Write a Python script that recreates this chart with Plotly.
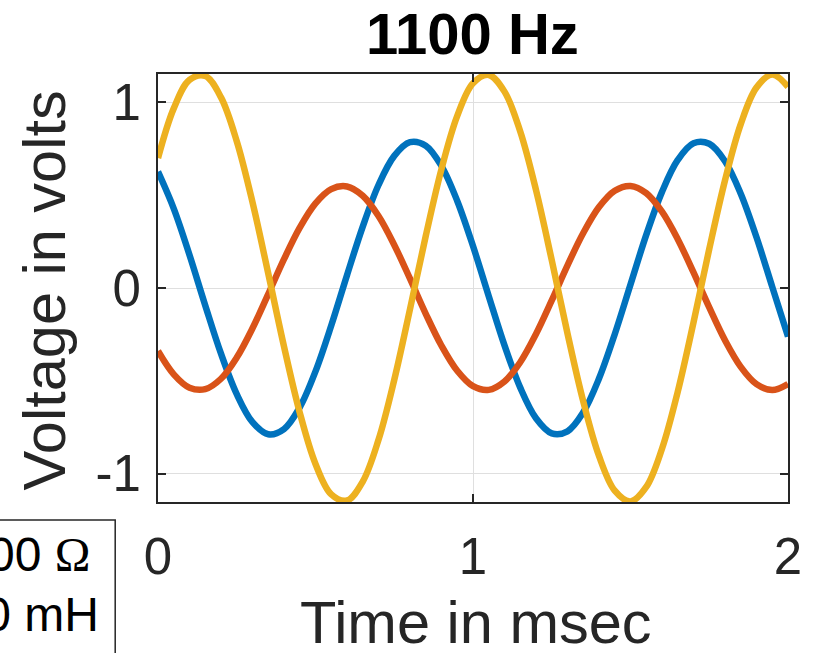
import plotly.graph_objects as go

# ---- data ----
time_ms = [round(0.05 * k, 2) for k in range(41)]

v_blue = [0.627, 0.428, 0.178, -0.094, -0.354, -0.572, -0.723, -0.788, -0.760, -0.643,
          -0.449, -0.202, 0.069, 0.331, 0.555, 0.712, 0.786, 0.767, 0.657, 0.469,
          0.226, -0.044, -0.309, -0.537, -0.702, -0.783, -0.772, -0.670, -0.488, -0.249,
          0.019, 0.286, 0.518, 0.690, 0.780, 0.777, 0.683, 0.508, 0.273, 0.006,
          -0.262]

v_orange = [-0.339, -0.465, -0.537, -0.545, -0.489, -0.375, -0.217, -0.033, 0.155, 0.325,
            0.456, 0.533, 0.547, 0.497, 0.388, 0.232, 0.050, -0.139, -0.311, -0.446,
            -0.529, -0.549, -0.504, -0.400, -0.248, -0.067, 0.122, 0.296, 0.436, 0.524,
            0.550, 0.511, 0.411, 0.263, 0.084, -0.105, -0.282, -0.425, -0.518, -0.550,
            -0.517]

v_yellow = [0.700, 0.968, 1.121, 1.142, 1.027, 0.791, 0.462, 0.078, -0.315, -0.671,
            -0.948, -1.112, -1.145, -1.043, -0.818, -0.495, -0.114, 0.280, 0.641, 0.927,
            1.103, 1.148, 1.058, 0.843, 0.528, 0.150, -0.245, -0.611, -0.905, -1.092,
            -1.150, -1.072, -0.866, -0.559, -0.186, 0.210, 0.580, 0.883, 1.080, 1.150,
            1.084]

x_ticks = [0, 1, 2]
x_tick_labels = ["0", "1", "2"]
y_ticks = [-1, 0, 1]
y_tick_labels = ["-1", "0", "1"]

title_text = "1100 Hz"
x_title = "Time in msec"
y_title = "Voltage in volts"
box_lines = ["R = 100 ", "L = 10 mH"]

# ---- figure geometry ----
W, H = 814, 653
L, R, T, B = 158, 23, 74, 151
PW, PH = W - L - R, H - T - B


def px(x):
    return (x - L) / PW


def py(y):
    return (H - B - y) / PH


series = [(v_blue, "#0072BD"), (v_orange, "#D95319"), (v_yellow, "#EDB120")]

fig = go.Figure()
for vals, col in series:
    fig.add_trace(go.Scatter(x=time_ms, y=vals, mode="lines",
                             line=dict(color=col, width=6.5, shape="spline"),
                             showlegend=False, hoverinfo="skip"))

axis_common = dict(showline=True, linecolor="#262626", linewidth=2, mirror="ticks",
                   ticks="inside", ticklen=8, tickwidth=2, tickcolor="#262626",
                   showgrid=True, gridcolor="#dfdfdf", gridwidth=1, zeroline=False,
                   tickfont=dict(family="Liberation Sans", size=51, color="#262626"))

fig.update_xaxes(range=[0, 2], tickvals=x_ticks, ticktext=x_tick_labels,
                 ticklabelstandoff=9, **axis_common)
fig.update_yaxes(range=[-1.153, 1.153], tickvals=y_ticks, ticktext=y_tick_labels,
                 ticklabelstandoff=5, **axis_common)

annotations = [
    dict(text="<b>" + title_text + "</b>", x=px(474), y=py(33), xref="paper", yref="paper",
         xanchor="center", yanchor="middle", showarrow=False,
         font=dict(family="Liberation Sans", size=58, color="black")),
    dict(text=x_title, x=px(478), y=py(622), xref="paper", yref="paper",
         xanchor="center", yanchor="middle", showarrow=False,
         font=dict(family="Liberation Sans", size=59.5, color="#262626")),
    dict(text=y_title, x=px(43), y=py(291), xref="paper", yref="paper", textangle=-90,
         xanchor="center", yanchor="middle", showarrow=False,
         font=dict(family="Liberation Sans", size=59.5, color="#262626")),
    dict(text=box_lines[0] + '<span style="font-family:Liberation Serif">\u03A9</span>',
         x=px(92), y=py(554), xref="paper", yref="paper",
         xanchor="right", yanchor="middle", showarrow=False,
         font=dict(family="Liberation Sans", size=48, color="black")),
    dict(text=box_lines[1], x=px(101), y=py(614), xref="paper", yref="paper",
         xanchor="right", yanchor="middle", showarrow=False,
         font=dict(family="Liberation Sans", size=48, color="black")),
]

shapes = [dict(type="rect", xref="paper", yref="paper",
               x0=px(-60), x1=px(115), y0=py(720), y1=py(520),
               line=dict(color="#262626", width=1.5), fillcolor="rgba(0,0,0,0)")]

fig.update_layout(width=W, height=H, autosize=False,
                  margin=dict(l=L, r=R, t=T, b=B, pad=0),
                  paper_bgcolor="white", plot_bgcolor="white",
                  annotations=annotations, shapes=shapes, showlegend=False)

fig.write_html("out.html", config={"displayModeBar": False},
               post_script="document.body.style.margin='0';document.body.style.overflow='hidden';")
